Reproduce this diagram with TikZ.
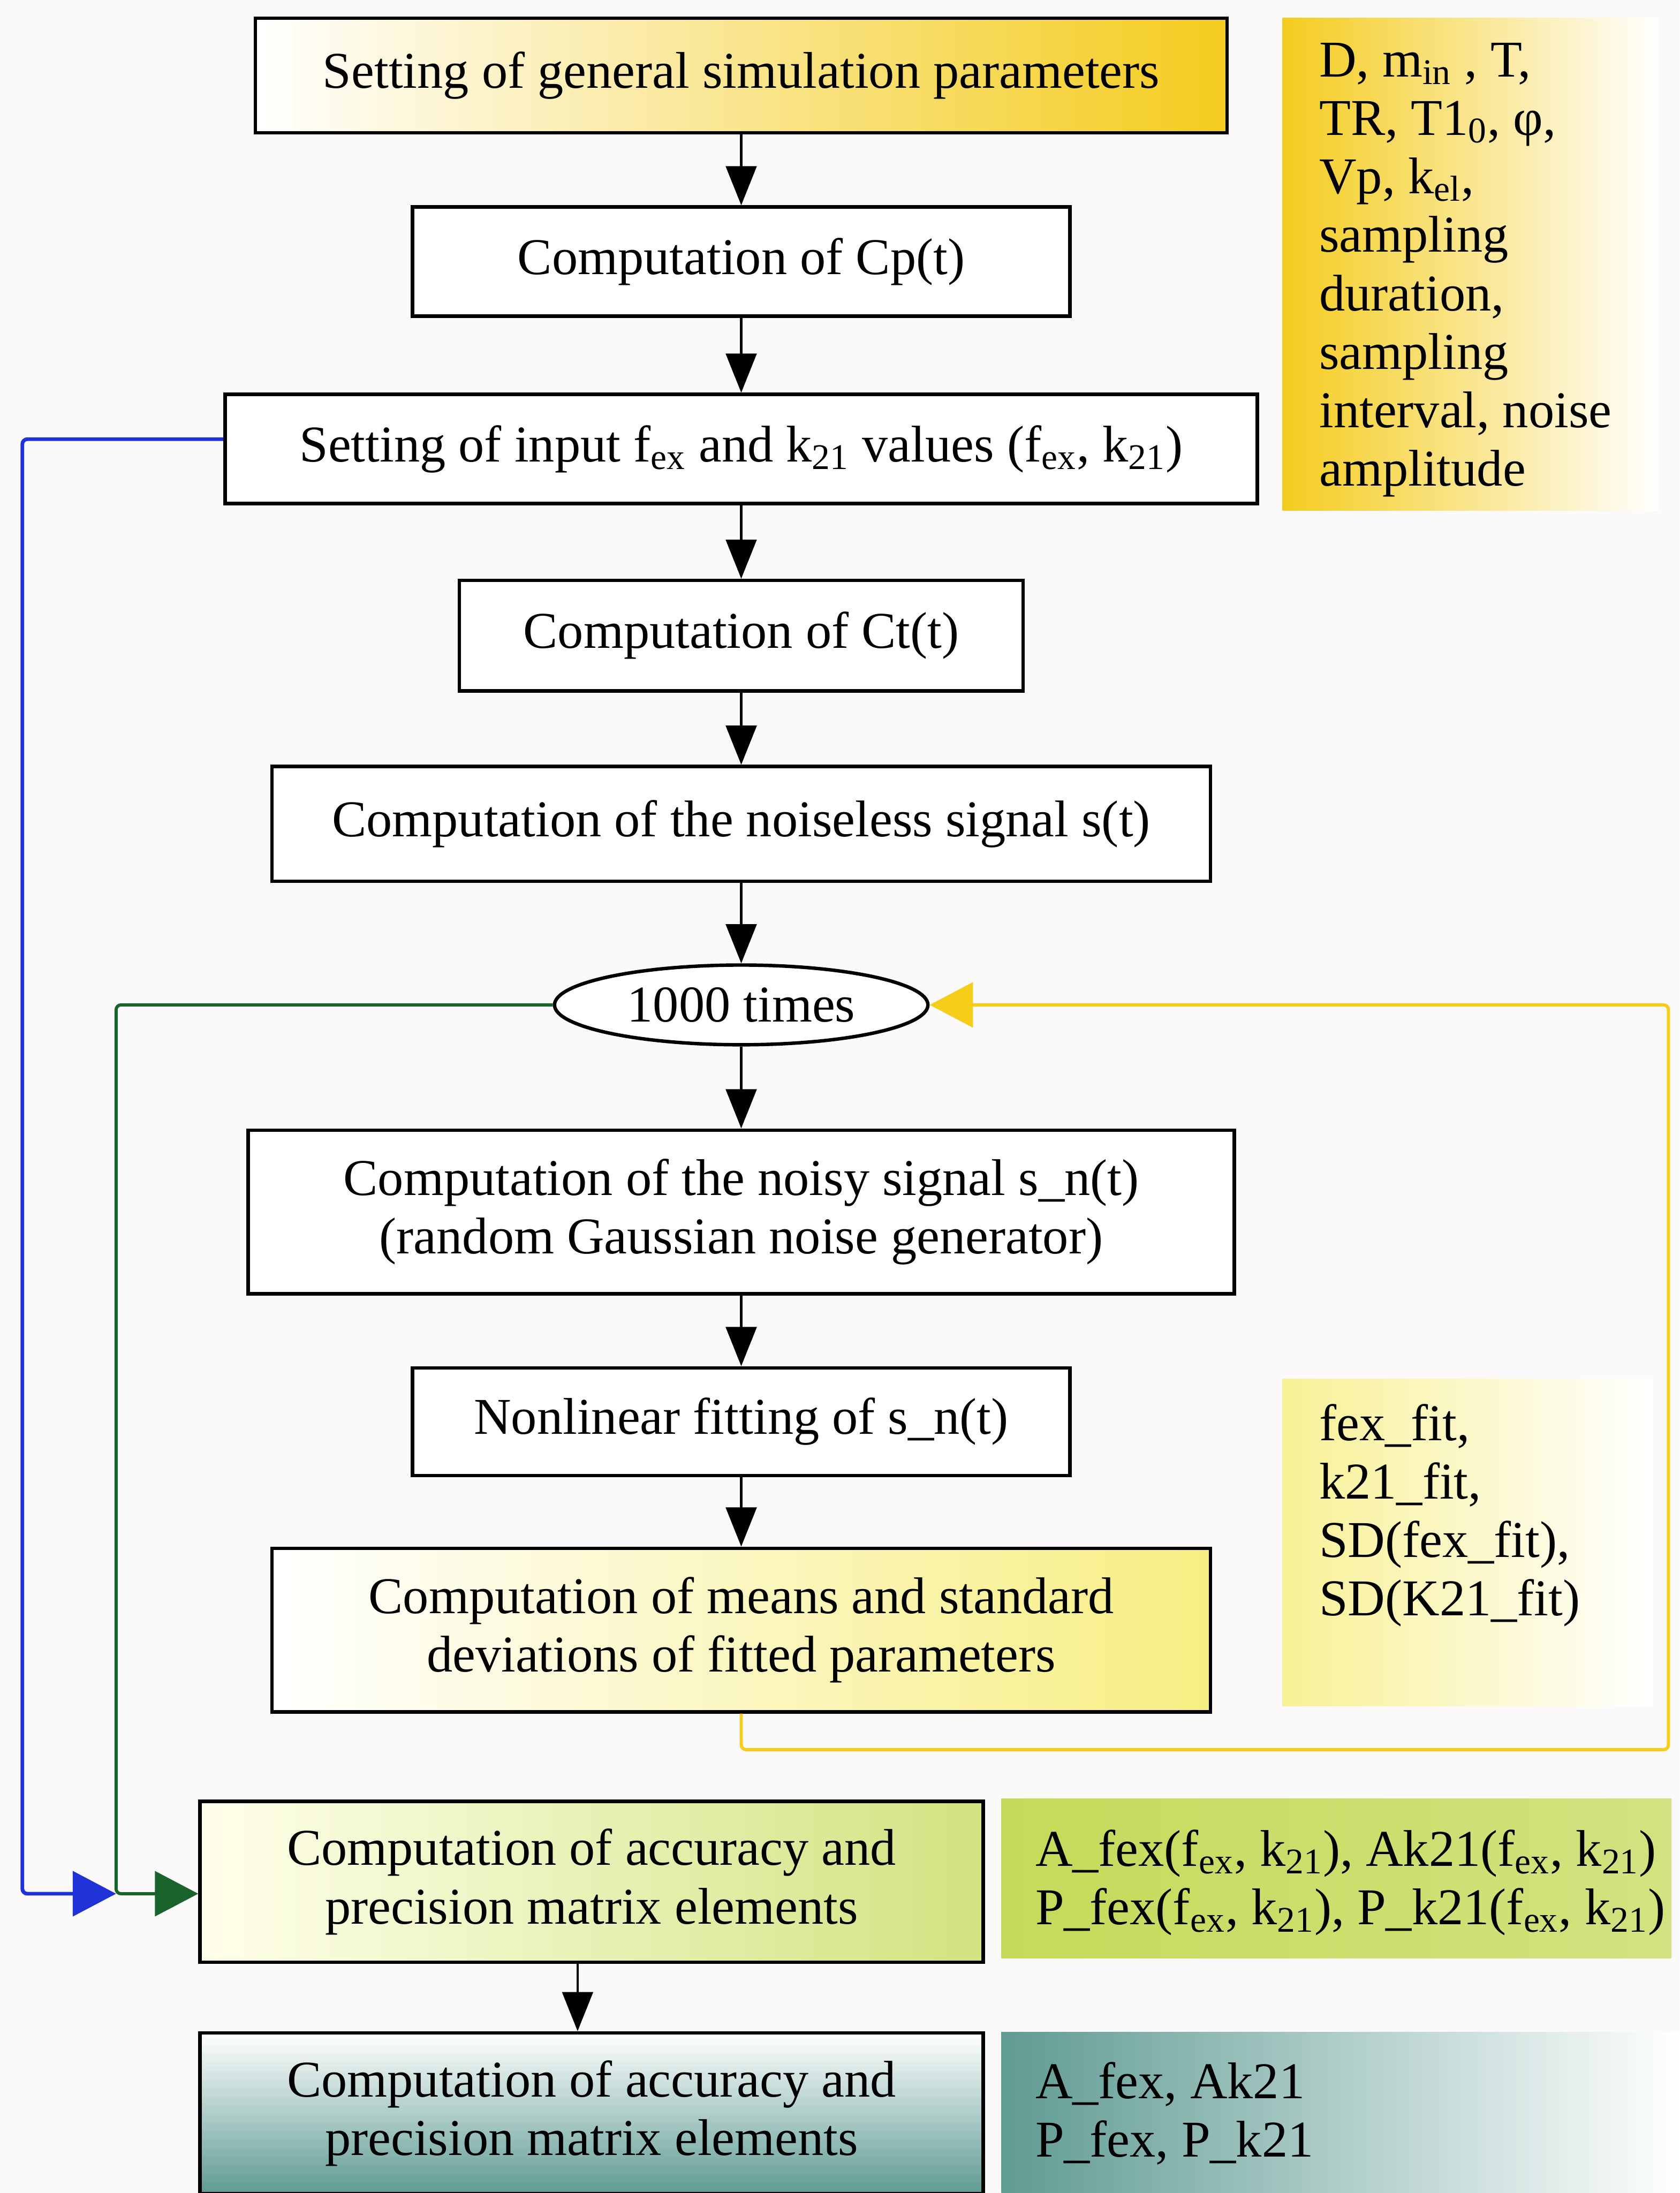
\documentclass[tikz,border=0pt]{standalone}
\usepackage{fontspec}
\setmainfont{Liberation Serif}
\usetikzlibrary{arrows.meta,shapes.geometric}

\definecolor{bgcol}{RGB}{251,249,249}
\definecolor{gold}{RGB}{244,204,30}
\definecolor{paleyel}{RGB}{247,238,130}
\definecolor{leaf}{RGB}{185,212,60}
\definecolor{tealbox}{RGB}{55,130,120}
\definecolor{lineblue}{RGB}{30,50,215}
\definecolor{linegreen}{RGB}{25,100,45}
\definecolor{lineyel}{RGB}{246,205,25}

\begin{document}
\begin{tikzpicture}[x=0.02cm, y=-0.02cm,
    every node/.style={font=\fontsize{21}{23.8}\selectfont},
    box/.style={draw, line width=1.4pt, inner sep=0pt, align=center, fill=white},
    note/.style={inner sep=0pt, align=left, anchor=west},
    flow/.style={line width=0.9pt, -{Triangle[length=0.56cm, width=0.44cm]}},
    loopline/.style={rounded corners=2pt, -{Triangle[length=0.62cm, width=0.64cm]}}]
    % パラメータ
    \def\px{0.02cm}

    % 背景
    \fill[bgcol] (0,0) rectangle (1201,1568);
    \useasboundingbox (0,0) rectangle (1201,1568);

    % 右側の帯
    \shade[left color=gold, middle color=gold!30, right color=white] (917,13) rectangle (1186,365);
    \shade[left color=paleyel!85, right color=white] (917,986) rectangle (1182,1220);
    \shade[left color=leaf!85, middle color=leaf!30, right color=leaf!65] (716,1286) rectangle (1195,1400);
    \shade[left color=tealbox!80, middle color=tealbox!25, right color=white] (716,1453) rectangle (1201,1580);

    % 処理の箱
    \node[box, minimum width=695*\px, minimum height=82*\px,
          left color=white, middle color=white!90!gold, right color=gold] (general) at (530,54)
        {Setting of general simulation parameters};
    \node[box, minimum width=470*\px, minimum height=78*\px] (cp) at (530,187) {Computation of Cp(t)};
    \node[box, minimum width=738*\px, minimum height=78*\px] (input) at (530,321)
        {Setting of input f\textsubscript{ex} and k\textsubscript{21} values (f\textsubscript{ex}, k\textsubscript{21})};
    \node[box, minimum width=403*\px, minimum height=79*\px] (ct) at (530,454.5) {Computation of Ct(t)};
    \node[box, minimum width=671*\px, minimum height=82*\px] (clean) at (530,589)
        {Computation of the noiseless signal s(t)};
    \node[box, ellipse, minimum width=267*\px, minimum height=57*\px] (times) at (530,718.5) {1000 times};
    \node[box, minimum width=705*\px, minimum height=117*\px] (noisy) at (530,866.5)
        {Computation of the noisy signal s\_n(t)\\(random Gaussian noise generator)};
    \node[box, minimum width=470*\px, minimum height=77*\px] (fit) at (530,1016.5) {Nonlinear fitting of s\_n(t)};
    \node[box, minimum width=671*\px, minimum height=117*\px,
          left color=white, right color=paleyel] (means) at (530,1165.5)
        {Computation of means and standard\\deviations of fitted parameters};
    \node[box, minimum width=560*\px, minimum height=115*\px,
          left color=white!92!yellow, right color=leaf!65] (acc) at (423,1345.5)
        {Computation of accuracy and\\precision matrix elements};
    \node[box, minimum width=560*\px, minimum height=115*\px,
          top color=white, bottom color=tealbox!80] (accsum) at (423,1511)
        {Computation of accuracy and\\precision matrix elements};

    % 右側の文字
    \node[note] (params) at (943,193) {D, m\textsubscript{in} , T,\\TR, T1\textsubscript{0}, φ,\\Vp, k\textsubscript{el},\\sampling\\duration,\\sampling\\interval, noise\\amplitude};
    \node[note] (fits) at (943,1083.5) {fex\_fit,\\k21\_fit,\\SD(fex\_fit),\\SD(K21\_fit)};
    \node[note] (accvals) at (740,1346)
        {A\_fex(f\textsubscript{ex}, k\textsubscript{21}), Ak21(f\textsubscript{ex}, k\textsubscript{21})\\P\_fex(f\textsubscript{ex}, k\textsubscript{21}), P\_k21(f\textsubscript{ex}, k\textsubscript{21})};
    \node[note] (accsums) at (740,1511) {A\_fex, Ak21\\P\_fex, P\_k21};

    % 矢印
    \draw[flow] (general.south) -- (cp.north);
    \draw[flow] (cp.south) -- (input.north);
    \draw[flow] (input.south) -- (ct.north);
    \draw[flow] (ct.south) -- (clean.north);
    \draw[flow] (clean.south) -- (times.north);
    \draw[flow] (times.south) -- (noisy.north);
    \draw[flow] (noisy.south) -- (fit.north);
    \draw[flow] (fit.south) -- (means.north);
    \draw[flow] ([xshift=-10*\px]acc.south) -- ([xshift=-10*\px]accsum.north);

    % ループの線
    \coordinate (ycorner) at (1193,1251);
    \coordinate (gcorner) at (83,1354);
    \coordinate (bcorner) at (16,1354);
    \draw[loopline, lineyel, line width=1.3pt] (means.south) |- (ycorner) |- (times.east);
    \draw[loopline, linegreen, line width=1.3pt] (times.west) -| (gcorner) -- (acc.west |- gcorner);
    \draw[loopline, lineblue, line width=1.5pt] ([yshift=7*\px]input.west) -| (bcorner) -- (gcorner);
\end{tikzpicture}
\end{document}
